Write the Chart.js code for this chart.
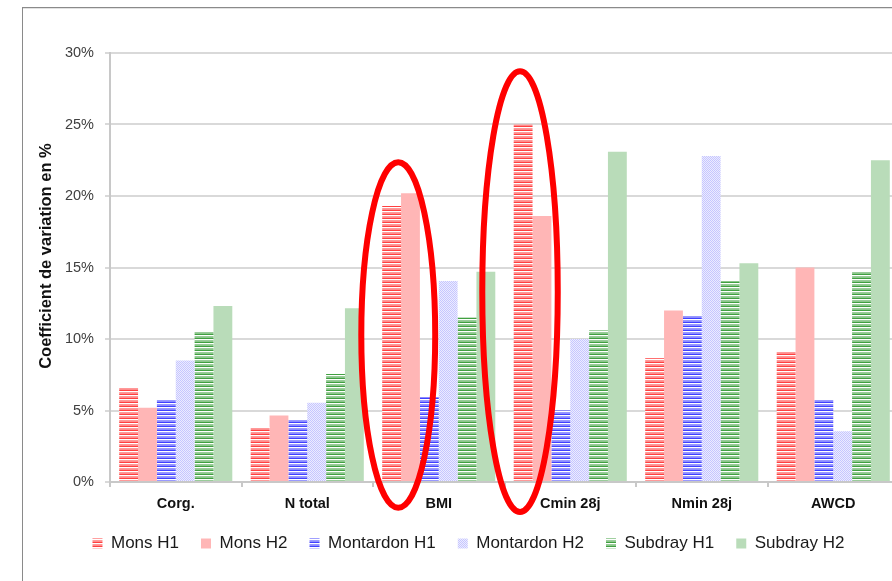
<!DOCTYPE html>
<html lang="fr">
<head>
<meta charset="utf-8">
<title>Coefficient de variation</title>
<script src="https://cdn.jsdelivr.net/npm/chart.js@4.4.1/dist/chart.umd.min.js"></script>
<style>
  html, body { margin: 0; padding: 0; background: #fff; }
  body { width: 892px; height: 581px; overflow: hidden; position: relative; }
  #frame {
    position: absolute; left: 22px; top: 7px; width: 900px; height: 600px;
    border-left: 1px solid #8a8a8a; border-top: 1px solid #8a8a8a;
    box-shadow: inset 0 1px 0 #e2e2e2;
  }
  #wrap { position: absolute; left: 23px; top: 8px; width: 893px; height: 573px; }
</style>
</head>
<body>
<div id="frame"></div>
<div id="wrap"><canvas id="cvChart"></canvas></div>

<script>
const categories = ['Corg.', 'N total', 'BMI', 'Cmin 28j', 'Nmin 28j', 'AWCD'];

const monsH1      = [6.6, 3.85, 19.3, 25.0, 8.65, 9.1];
const monsH2      = [5.2, 4.65, 20.2, 18.6, 12.0, 15.0];
const montardonH1 = [5.8, 4.35, 5.95, 5.0, 11.65, 5.8];
const montardonH2 = [8.5, 5.55, 14.05, 10.0, 22.8, 3.55];
const subdrayH1   = [10.5, 7.55, 11.5, 10.6, 14.05, 14.75];
const subdrayH2   = [12.3, 12.15, 14.7, 23.1, 15.3, 22.5];

const yTicks = [0, 5, 10, 15, 20, 25, 30];

// red rings drawn over the bars: category index, shift and half width in
// category widths, top / bottom in axis units (%)
const rings = [
  { cat: 2, dx: -0.308, half: 0.281, top: 22.36, bottom: -1.8 },
  { cat: 3, dx: -0.382, half: 0.287, top: 28.72, bottom: -2.1 }
];

// --- fills ---
function mix(rgb, a) {
  return 'rgb(' + rgb.map(c => Math.round(255 - a * (255 - c))).join(',') + ')';
}

function stripes(rgb) {
  const c = document.createElement('canvas');
  c.width = 4; c.height = 4;
  const g = c.getContext('2d');
  [0.4, 0.45, 0.75, 0].forEach((a, i) => {
    g.fillStyle = mix(rgb, a);
    g.fillRect(0, i, 4, 1);
  });
  return g.createPattern(c, 'repeat');
}

function checker(a, b) {
  const c = document.createElement('canvas');
  c.width = 2; c.height = 2;
  const g = c.getContext('2d');
  g.fillStyle = a; g.fillRect(0, 0, 2, 2);
  g.fillStyle = b; g.fillRect(1, 0, 1, 1); g.fillRect(0, 1, 1, 1);
  return g.createPattern(c, 'repeat');
}

const ringPlugin = {
  id: 'rings',
  afterDraw(chart) {
    const { ctx, scales: { x, y } } = chart;
    const step = x.width / categories.length;
    ctx.save();
    ctx.strokeStyle = '#ff0000';
    ctx.lineWidth = 6;
    rings.forEach(r => {
      const cx = x.getPixelForValue(r.cat) + r.dx * step;
      const yTop = y.getPixelForValue(r.top);
      const yBot = y.getPixelForValue(r.bottom);
      ctx.beginPath();
      ctx.ellipse(cx, (yTop + yBot) / 2, r.half * step, (yBot - yTop) / 2, 0, 0, Math.PI * 2);
      ctx.stroke();
    });
    ctx.restore();
  }
};

Chart.defaults.font.family = '"Liberation Sans", Arial, sans-serif';
Chart.defaults.color = '#333';

const series = [
  { label: 'Mons H1', data: monsH1, backgroundColor: stripes([255, 0, 0]) },
  { label: 'Mons H2', data: monsH2, backgroundColor: '#ffb6b6' },
  { label: 'Montardon H1', data: montardonH1, backgroundColor: stripes([0, 0, 255]) },
  { label: 'Montardon H2', data: montardonH2, backgroundColor: checker('#ececff', '#c6c6ff') },
  { label: 'Subdray H1', data: subdrayH1, backgroundColor: stripes([0, 128, 0]) },
  { label: 'Subdray H2', data: subdrayH2, backgroundColor: '#b9dcb9' }
];

new Chart(document.getElementById('cvChart').getContext('2d'), {
  type: 'bar',
  data: {
    labels: categories,
    datasets: series.map(s => ({
      ...s,
      borderWidth: 0,
      categoryPercentage: 0.86,
      barPercentage: 1.0
    }))
  },
  options: {
    responsive: true,
    maintainAspectRatio: false,
    animation: false,
    layout: { padding: { left: 15, right: 17, top: 45, bottom: 19 } },
    scales: {
      x: {
        grid: { offset: true, drawOnChartArea: false, tickLength: 5, color: '#c8c8c8', lineWidth: 2 },
        border: { color: '#c8c8c8', width: 2 },
        ticks: { padding: 8, color: '#111', font: { size: 14.5, weight: 'bold' } },
        afterFit: s => { s.height = 31; }
      },
      y: {
        min: 0,
        max: 30,
        afterBuildTicks: s => { s.ticks = yTicks.map(v => ({ value: v })); },
        grid: { color: '#d9d9d9', lineWidth: 2, tickLength: 5 },
        border: { color: '#c8c8c8', width: 2 },
        ticks: { padding: 11, color: '#404040', font: { size: 14.5 }, callback: v => v + '%' },
        title: {
          display: true,
          // leading spaces lift the rotated title a little above the axis middle
          text: '\u00a0\u00a0\u00a0\u00a0\u00a0Coefficient de variation en %',
          color: '#111',
          font: { size: 16.5, weight: 'bold', lineHeight: 1 },
          padding: { top: 0, bottom: 0 }
        },
        afterFit: s => { s.width = 72; }
      }
    },
    plugins: {
      legend: {
        position: 'bottom',
        labels: { boxWidth: 10, boxHeight: 10, padding: 22, color: '#1a1a1a', font: { size: 17 } }
      },
      tooltip: { enabled: false }
    }
  },
  plugins: [ringPlugin]
});
</script>
</body>
</html>
